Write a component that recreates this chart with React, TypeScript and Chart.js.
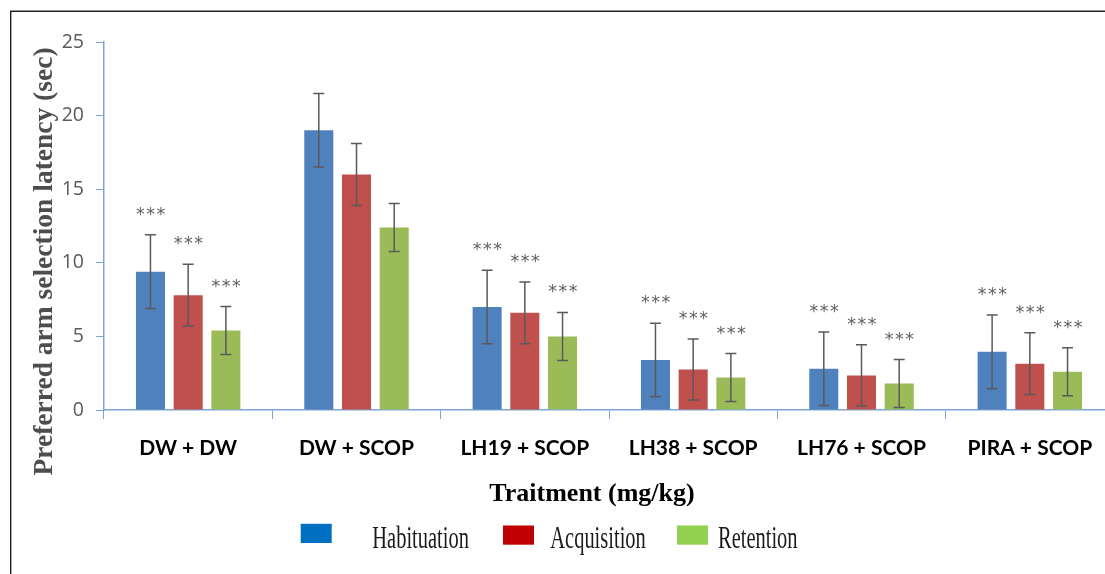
import React, { useEffect, useRef } from "react";
import { Chart, registerables } from "chart.js";

Chart.register(...registerables);

const categories = ["DW + DW", "DW + SCOP", "LH19 + SCOP", "LH38 + SCOP", "LH76 + SCOP", "PIRA + SCOP"];
const seriesNames = ["Habituation", "Acquisition", "Retention"];
const habituation = [9.4, 19.0, 7.0, 3.4, 2.8, 3.95];
const acquisition = [7.8, 16.0, 6.6, 2.75, 2.35, 3.15];
const retention = [5.4, 12.4, 5.0, 2.2, 1.8, 2.6];
const habituationErr = [2.5, 2.5, 2.5, 2.5, 2.5, 2.5];
const acquisitionErr = [2.1, 2.1, 2.1, 2.07, 2.08, 2.1];
const retentionErr = [1.63, 1.63, 1.63, 1.63, 1.63, 1.63];
const significance = ["***", "", "***", "***", "***", "***"];
const yTicks = [0, 5, 10, 15, 20, 25];
const yTitle = "Preferred arm selection latency (sec)";
const xTitle = "Traitment (mg/kg)";

const barColors = ["#4F81BD", "#C0504D", "#9BBB59"];
const legendColors = ["#0070C0", "#C00000", "#92D050"];
const axisColor = "#7FA5D6";

const errors = [habituationErr, acquisitionErr, retentionErr];

const errorBarsPlugin = {
  id: "errorBars",
  afterDatasetsDraw(chart: any) {
    const ctx = chart.ctx;
    const y = chart.scales.y;
    chart.data.datasets.forEach((ds: any, di: number) => {
      const meta = chart.getDatasetMeta(di);
      meta.data.forEach((bar: any, i: number) => {
        const v = ds.data[i];
        const e = errors[di][i];
        const top = y.getPixelForValue(v + e);
        const bot = y.getPixelForValue(Math.max(0, v - e));
        ctx.save();
        ctx.strokeStyle = "#5A5A5A";
        ctx.lineWidth = 1.5;
        ctx.beginPath();
        ctx.moveTo(bar.x, top);
        ctx.lineTo(bar.x, bot);
        ctx.moveTo(bar.x - 5.5, top);
        ctx.lineTo(bar.x + 5.5, top);
        ctx.moveTo(bar.x - 5.5, bot);
        ctx.lineTo(bar.x + 5.5, bot);
        ctx.stroke();
        if (significance[i]) {
          ctx.fillStyle = "#5F5F5F";
          ctx.font = "17.5px 'DejaVu Sans'";
          (ctx as any).letterSpacing = "1.5px";
          ctx.textAlign = "center";
          ctx.textBaseline = "alphabetic";
          ctx.fillText(significance[i], bar.x + 1, top - 25 + 10);
        }
        ctx.restore();
      });
    });
  },
};

const decorPlugin = {
  id: "decor",
  beforeDraw(chart: any) {
    const ctx = chart.ctx;
    ctx.save();
    ctx.fillStyle = "#ffffff";
    ctx.fillRect(0, 0, chart.width, chart.height);
    ctx.strokeStyle = "#222222";
    ctx.lineWidth = 1.4;
    ctx.beginPath();
    ctx.moveTo(10.7, chart.height + 2);
    ctx.lineTo(10.7, 11.2);
    ctx.lineTo(chart.width + 2, 11.2);
    ctx.stroke();
    ctx.restore();
  },
  afterDraw(chart: any) {
    const ctx = chart.ctx;
    ctx.save();
    ctx.translate(52.3, 261.5);
    ctx.rotate(-Math.PI / 2);
    ctx.font = "bold 27.5px 'Liberation Serif'";
    ctx.fillStyle = "#4D4D4D";
    ctx.textAlign = "center";
    ctx.textBaseline = "alphabetic";
    ctx.fillText(yTitle, 0, 0);
    ctx.restore();

    ctx.save();
    ctx.font = "bold 26px 'Liberation Serif'";
    ctx.fillStyle = "#000000";
    ctx.textAlign = "center";
    ctx.textBaseline = "alphabetic";
    ctx.fillText(xTitle, 592, 500.5);
    ctx.restore();

    const boxes = [
      { x: 300.7, y: 523.8, tx: 372.3 },
      { x: 503, y: 525.5, tx: 550.3 },
      { x: 677, y: 525.5, tx: 718 },
    ];
    seriesNames.forEach((name, i) => {
      const b = boxes[i];
      ctx.save();
      ctx.fillStyle = legendColors[i];
      ctx.fillRect(b.x, b.y, 31, 19.2);
      ctx.translate(b.tx, 547.9);
      ctx.scale(0.66, 1);
      ctx.font = "31px 'Liberation Serif'";
      ctx.fillStyle = "#1A1A1A";
      ctx.textAlign = "left";
      ctx.textBaseline = "alphabetic";
      ctx.fillText(name, 0, 0);
      ctx.restore();
    });
  },
};

export default function App() {
  const ref = useRef<HTMLCanvasElement | null>(null);
  useEffect(() => {
    if (!ref.current) return;
    const chart = new Chart(ref.current, {
      type: "bar",
      data: {
        labels: categories,
        datasets: [habituation, acquisition, retention].map((d, i) => ({
          label: seriesNames[i],
          data: d,
          backgroundColor: barColors[i],
          borderWidth: 0,
          categoryPercentage: 0.672,
          barPercentage: 0.77,
        })),
      },
      options: {
        animation: false,
        responsive: false,
        events: [],
        layout: { padding: { top: 42, left: 0, right: 16, bottom: 0 } },
        plugins: { legend: { display: false }, title: { display: false }, tooltip: { enabled: false } },
        scales: {
          x: {
            grid: { drawOnChartArea: false, drawTicks: true, tickLength: 9, tickColor: axisColor, offset: true },
            border: { color: axisColor, width: 1.5 },
            ticks: { font: { family: "Lato", size: 21, weight: "bold" }, color: "#000000", padding: 16.5, maxRotation: 0, autoSkip: false },
            afterFit: (s: any) => { s.height = 164; },
          },
          y: {
            min: 0,
            max: 25,
            afterBuildTicks: (s: any) => { s.ticks = yTicks.map((v) => ({ value: v })); },
            grid: { drawOnChartArea: false, drawTicks: true, tickLength: 8, tickColor: axisColor },
            border: { color: axisColor, width: 1.5 },
            ticks: { font: { family: "Open Sans", size: 19.5 }, color: "#595959", padding: 12 },
            afterFit: (s: any) => { s.width = 104; },
          },
        },
      },
      plugins: [errorBarsPlugin, decorPlugin],
    } as any);
    return () => chart.destroy();
  }, []);
  return (
    <div style={{ position: "fixed", left: 0, top: 0, width: 1105, height: 574, overflow: "hidden", background: "#fff" }}>
      <canvas ref={ref} width={1130} height={574} style={{ display: "block" }} />
    </div>
  );
}
